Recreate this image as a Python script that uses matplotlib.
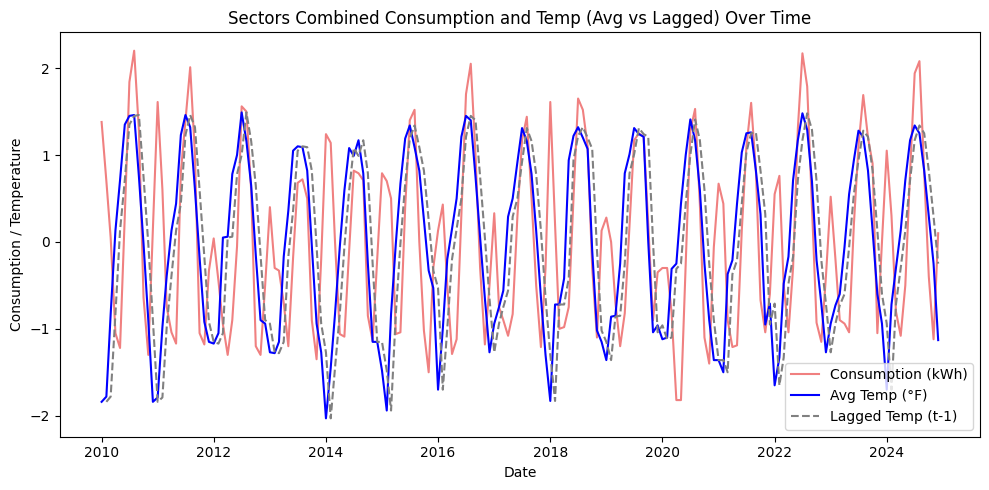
import numpy as np
import pandas as pd
import matplotlib
matplotlib.use('Agg')
import matplotlib.pyplot as plt

# Monthly dates, Jan 2010 - Dec 2024
dates = pd.date_range('2010-01-01', periods=180, freq='MS')

# Standardised consumption (one row per year)
consumption = [
    1.38, 0.70, 0.05, -1.05, -1.22, 0.30, 1.84, 2.20, 1.28, -0.64, -1.30, 0.15,   # 2010
    1.61, 0.60, -0.75, -1.04, -1.17, 0.80, 1.40, 2.01, 1.00, -1.05, -1.18, -0.33,  # 2011
    0.04, -0.45, -0.95, -1.30, -0.90, -0.05, 1.56, 1.50, 0.60, -1.20, -1.30, -0.50,  # 2012
    0.40, -0.30, -0.33, -0.70, -1.20, -0.18, 0.68, 0.72, 0.50, -0.90, -1.35, -0.20,  # 2013
    1.24, 1.14, 0.00, -1.06, -1.09, -0.10, 0.82, 0.79, 0.71, -0.85, -1.14, -0.20,  # 2014
    0.79, 0.70, 0.50, -1.06, -1.04, 0.40, 1.40, 1.52, 0.00, -1.02, -1.50, -0.30,  # 2015
    0.13, 0.43, -0.50, -1.29, -1.12, 0.30, 1.70, 2.05, 1.00, -0.30, -1.18, -0.50,  # 2016
    0.33, -0.75, -0.90, -1.08, -0.83, 0.30, 1.17, 1.44, 0.50, -0.50, -1.21, -0.30,  # 2017
    1.61, 0.20, -1.00, -0.98, -0.75, 0.50, 1.65, 1.52, 1.10, -0.30, -1.10, 0.13,  # 2018
    0.28, 0.00, -0.70, -1.20, -0.82, 0.20, 1.17, 1.25, 1.21, 0.20, -0.90, -0.35,  # 2019
    -0.30, -0.30, -0.82, -1.82, -1.82, -0.25, 1.28, 1.53, 0.44, -1.10, -1.40, -0.06,  # 2020
    0.67, 0.44, -0.90, -1.21, -1.19, 0.13, 1.09, 1.60, 0.82, -0.67, -1.04, -0.60,  # 2021
    0.55, 0.76, -0.50, -1.04, -0.30, 1.30, 2.17, 1.79, 0.40, -0.93, -1.15, -0.40,  # 2022
    0.52, -0.20, -0.90, -0.94, -1.04, 0.20, 1.10, 1.69, 1.20, 0.90, -1.05, 0.00,  # 2023
    1.05, 0.30, -0.80, -1.08, -0.50, 0.80, 1.94, 2.08, 0.80, -0.40, -1.12, 0.10,  # 2024
]

# Standardised average temperature
avg_temp = [
    -1.84, -1.78, -0.83, 0.13, 0.71, 1.35, 1.45, 1.46, 0.75, -0.02, -0.90, -1.84,  # 2010
    -1.79, -0.98, -0.39, 0.13, 0.44, 1.23, 1.46, 1.32, 0.60, -0.18, -0.92, -1.15,  # 2011
    -1.17, -1.05, 0.05, 0.06, 0.78, 1.00, 1.49, 1.16, 0.65, -0.15, -0.90, -0.94,  # 2012
    -1.27, -1.28, -1.15, -0.17, 0.36, 1.05, 1.10, 1.09, 0.82, -0.05, -0.94, -1.27,  # 2013
    -2.03, -1.45, -0.83, -0.06, 0.59, 1.08, 0.99, 1.17, 0.79, -0.25, -1.15, -1.15,  # 2014
    -1.48, -1.94, -0.83, -0.02, 0.67, 1.19, 1.34, 1.09, 0.82, 0.25, -0.33, -0.53,  # 2015
    -1.70, -1.00, -0.20, 0.15, 0.50, 1.21, 1.45, 1.40, 0.75, 0.05, -0.65, -1.27,  # 2016
    -0.94, -0.75, -0.56, 0.29, 0.50, 0.92, 1.31, 1.16, 0.78, 0.13, -0.64, -1.30,  # 2017
    -1.83, -0.72, -0.72, -0.42, 0.94, 1.22, 1.32, 1.20, 1.07, -0.10, -1.02, -1.15,  # 2018
    -1.36, -0.86, -0.85, -0.25, 0.79, 1.01, 1.31, 1.24, 1.21, 0.00, -1.04, -0.96,  # 2019
    -1.12, -1.10, -0.31, -0.25, 0.44, 1.00, 1.41, 1.17, 0.60, -0.25, -0.90, -1.36,  # 2020
    -1.36, -1.50, -0.37, -0.21, 0.44, 1.03, 1.25, 1.26, 0.82, 0.32, -0.95, -0.71,  # 2021
    -1.65, -1.33, -0.48, -0.17, 0.71, 1.17, 1.48, 1.29, 0.70, -0.21, -0.71, -1.27,  # 2022
    -0.94, -0.73, -0.60, -0.06, 0.55, 0.94, 1.28, 1.21, 0.82, 0.13, -0.60, -0.94,  # 2023
    -1.70, -0.72, -0.30, 0.13, 0.71, 1.17, 1.34, 1.25, 0.82, 0.29, -0.25, -1.13,  # 2024
]

df = pd.DataFrame({'consumption': consumption, 'avg_temp': avg_temp}, index=dates)
# lagged temperature is the previous month's average
df['lagged_temp'] = df['avg_temp'].shift(1)

plt.figure(figsize=(10, 5), dpi=100)
plt.plot(df.index, df['consumption'], label='Consumption (kWh)', color='lightcoral')
plt.plot(df.index, df['avg_temp'], label='Avg Temp (°F)', color='blue')
plt.plot(df.index, df['lagged_temp'], label='Lagged Temp (t-1)', color='gray', linestyle='--')

plt.title('Sectors Combined Consumption and Temp (Avg vs Lagged) Over Time')
plt.xlabel('Date')
plt.ylabel('Consumption / Temperature')
plt.legend(loc='lower right')
plt.tight_layout()
plt.savefig('out.png', bbox_inches='tight')
